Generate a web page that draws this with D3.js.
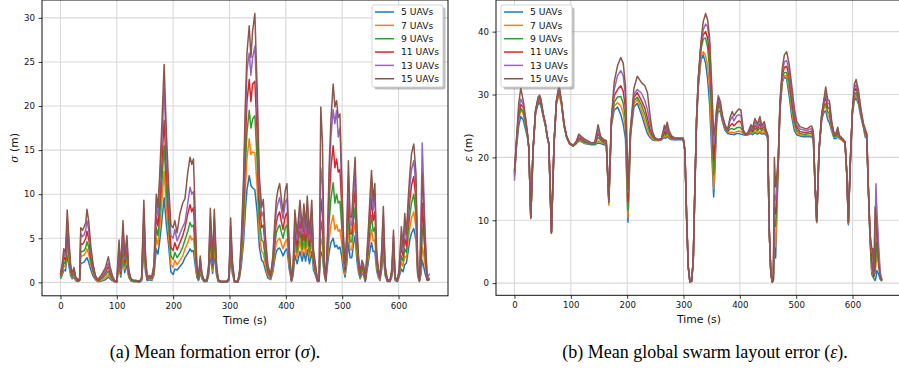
<!DOCTYPE html>
<html><head><meta charset="utf-8">
<script src="https://cdn.jsdelivr.net/npm/d3@7"></script>
<style>body{margin:0;background:#fff}svg{display:block}</style>
</head><body>
<svg id="chart" width="899" height="371"></svg>
<script>
// ---------- data ----------
const seriesNames = ["5 UAVs", "7 UAVs", "9 UAVs", "11 UAVs", "13 UAVs", "15 UAVs"];
const seriesColors = ["#1f77b4", "#ff7f0e", "#2ca02c", "#d62728", "#9467bd", "#8c564b"];
const xTickValues = [0, 100, 200, 300, 400, 500, 600];
const yTicksSigma = [0, 5, 10, 15, 20, 25, 30];
const yTicksEps = [0, 10, 20, 30, 40];
const captionParts = [["(a) Mean formation error (", "\u03c3", ")."], ["(b) Mean global swarm layout error (", "\u03b5", ")."]];

// (a) time axis and sigma series
const timeA = [
 0,3,6,9,12,15,18,21,24,27,
 31,34,36,39,42,45,47,50,54,58,
 62,66,70,75,80,85,88,92,96,100,
 104,107,111,114,118,121,125,130,135,140,
 144,148,151,154,158,162,166,170,173,176,
 180,184,188,192,196,200,203,207,212,217,
 221,226,230,233,236,239,242,245,248,251,
 255,260,263,266,270,273,277,280,285,290,
 295,299,302,305,309,315,318,321,325,328,
 331,335,338,341,345,349,353,357,360,364,
 368,373,377,380,383,386,389,392,395,399,
 402,406,410,413,416,420,425,429,432,435,
 438,442,446,449,452,456,459,462,465,468,
 471,474,477,480,484,487,490,493,496,499,
 502,505,508,511,514,517,520,523,526,529,
 532,535,538,541,546,549,552,555,558,561,
 564,567,570,573,576,580,585,588,591,594,
 598,601,605,608,611,614,617,620,623,627,
 631,634,637,640,642,644,647,651,655];
const sigma5 = [
 0.4,0.8,1.4,1.3,3.1,1.9,0.8,0.4,0.6,0.2,
 0.1,0.2,2.2,2.2,2.3,2.6,2.8,2.3,1.4,0.7,
 0.3,0.1,0.1,0.2,0.3,0.6,0.4,0.2,0.1,0.0,
 1.8,0.6,2.7,1.1,2.0,0.6,0.2,0.1,0.1,0.0,
 0.2,3.5,1.1,0.2,0.3,0.2,0.8,3.8,3.2,4.6,
 7.0,9.6,6.5,4.2,1.2,0.9,1.5,1.4,1.8,2.2,
 2.8,3.3,3.8,3.5,3.6,2.0,0.6,0.2,1.1,0.4,
 0.1,0.1,0.8,3.2,1.0,3.2,0.8,0.1,0.0,0.0,
 0.0,0.2,2.8,1.0,0.0,0.0,0.6,1.9,4.6,8.0,
 10.5,12.1,11.0,10.7,10.5,8.0,4.0,2.5,2.3,1.3,
 0.5,0.3,1.2,2.5,3.5,3.8,3.9,3.5,3.0,3.6,
 3.8,1.5,0.1,0.8,3.1,2.1,3.5,2.4,3.4,2.4,
 3.7,2.1,3.5,1.4,0.9,0.1,0.1,3.5,3.0,0.9,
 0.1,2.0,3.5,4.5,5.0,4.0,4.2,3.8,4.0,3.0,
 1.5,0.6,2.0,4.5,2.8,2.8,4.3,5.3,2.5,1.1,
 0.4,1.0,0.8,0.1,2.1,3.5,4.5,3.5,3.5,1.4,
 0.6,0.2,1.4,3.3,0.8,0.1,0.1,0.6,2.2,0.2,
 0.1,0.6,1.5,1.2,2.0,2.2,3.5,4.8,5.6,6.1,
 4.8,0.7,0.1,1.0,2.5,2.0,1.0,0.2,0.3];
const sigma7 = [
 0.5,1.0,1.9,1.7,4.1,2.5,1.0,0.5,0.9,0.3,
 0.2,0.2,3.0,3.0,3.1,3.4,3.8,3.2,2.0,1.0,
 0.4,0.1,0.2,0.3,0.5,0.9,0.6,0.3,0.1,0.0,
 2.4,0.8,3.5,1.5,2.7,0.8,0.2,0.1,0.1,0.1,
 0.3,4.7,1.5,0.3,0.4,0.3,1.0,5.0,4.3,6.0,
 9.2,12.6,8.5,5.5,2.0,1.7,2.5,2.0,2.5,3.0,
 3.8,4.5,5.3,4.8,5.0,3.0,0.9,0.3,1.5,0.5,
 0.1,0.2,1.0,4.2,1.3,4.2,1.0,0.2,0.1,0.1,
 0.1,0.3,3.7,1.3,0.1,0.1,0.8,2.5,6.0,10.5,
 14.0,16.3,14.5,14.8,14.7,10.8,5.5,3.5,3.3,1.8,
 0.8,0.4,1.5,3.2,4.5,4.8,5.0,4.4,3.8,4.6,
 4.9,2.0,0.2,1.0,4.1,2.8,4.7,3.1,4.5,3.2,
 4.9,2.8,4.7,1.9,1.2,0.2,0.2,5.0,4.2,1.2,
 0.2,2.8,5.0,6.5,7.6,6.0,6.5,5.8,6.0,4.5,
 2.3,0.9,2.8,6.2,3.7,3.7,5.6,6.8,3.3,1.5,
 0.5,1.3,1.0,0.2,2.8,4.7,6.0,4.7,4.8,1.9,
 0.8,0.3,1.9,4.3,1.0,0.2,0.2,0.8,3.0,0.3,
 0.2,0.8,2.3,1.8,3.0,2.8,4.7,6.2,7.3,8.0,
 6.2,0.9,0.2,1.5,4.0,3.5,2.0,0.3,0.3];
const sigma9 = [
 0.6,1.2,2.4,2.0,5.1,3.1,1.2,0.6,1.1,0.4,
 0.2,0.2,3.5,3.5,3.6,4.0,4.6,4.0,2.4,1.2,
 0.5,0.2,0.3,0.5,0.8,1.3,0.8,0.4,0.1,0.1,
 3.0,0.9,4.3,1.9,3.3,0.9,0.2,0.1,0.1,0.1,
 0.3,5.8,1.9,0.3,0.5,0.4,1.2,6.2,5.3,7.4,
 11.3,15.5,10.5,6.8,3.0,2.6,3.4,2.8,3.3,4.0,
 4.8,5.8,6.8,6.3,6.5,4.0,1.2,0.3,1.9,0.6,
 0.1,0.2,1.2,5.2,1.6,5.1,1.2,0.2,0.1,0.1,
 0.1,0.3,4.5,1.6,0.1,0.1,0.9,3.1,7.4,13.0,
 17.0,19.5,17.5,18.5,18.9,13.8,7.0,4.8,4.6,2.5,
 1.1,0.5,1.9,4.0,5.6,6.2,6.5,5.7,5.0,6.2,
 6.5,2.5,0.2,1.2,5.1,3.4,5.8,3.8,5.5,3.9,
 6.1,3.4,5.8,2.3,1.4,0.2,0.2,7.0,5.8,1.5,
 0.2,3.4,7.0,9.5,11.3,9.0,10.0,9.0,9.2,6.5,
 3.2,1.2,3.4,8.0,4.6,4.6,7.0,8.5,4.0,1.8,
 0.6,1.6,1.2,0.2,3.4,5.8,7.6,5.8,6.2,2.3,
 0.9,0.4,2.3,5.3,1.2,0.2,0.2,0.9,3.7,0.4,
 0.2,0.9,3.0,2.4,3.8,3.4,5.8,7.6,9.0,10.0,
 7.6,1.1,0.2,2.0,5.5,6.5,3.0,0.3,0.4];
const sigma11 = [
 0.8,1.5,2.9,2.5,6.2,3.8,1.5,0.8,1.3,0.5,
 0.2,0.3,4.4,4.3,4.6,5.0,5.8,5.0,3.0,1.5,
 0.6,0.2,0.4,0.7,1.1,1.8,1.1,0.5,0.1,0.1,
 3.6,1.1,5.3,2.3,4.0,1.1,0.3,0.2,0.2,0.1,
 0.4,7.0,2.3,0.4,0.6,0.5,1.5,7.5,6.4,9.0,
 13.5,18.4,12.8,8.3,4.0,3.6,4.5,3.7,4.5,5.3,
 6.2,7.8,8.8,8.0,8.5,5.0,1.5,0.4,2.3,0.8,
 0.2,0.2,1.5,6.3,1.9,6.2,1.5,0.2,0.1,0.1,
 0.1,0.4,5.5,1.9,0.1,0.1,1.1,3.8,9.0,15.5,
 20.5,23.0,20.5,22.5,22.8,17.0,9.0,6.2,6.5,3.5,
 1.4,0.6,2.3,4.9,6.8,7.6,8.0,6.9,6.0,7.5,
 7.9,3.0,0.2,1.5,6.2,4.1,7.0,4.7,6.7,4.7,
 7.4,4.1,7.0,2.8,1.7,0.2,0.2,9.5,7.8,1.9,
 0.2,4.1,9.5,13.0,15.5,13.0,14.0,12.5,12.8,8.8,
 4.0,1.5,4.1,10.0,5.5,5.5,8.4,10.5,4.9,2.2,
 0.8,1.9,1.5,0.2,4.1,7.0,9.5,7.0,8.0,2.8,
 1.1,0.5,2.8,6.5,1.5,0.2,0.2,1.1,4.4,0.5,
 0.2,1.1,4.2,3.0,5.0,4.1,7.0,9.3,11.0,12.0,
 9.3,1.4,0.2,3.0,9.0,7.0,3.5,0.3,0.4];
const sigma13 = [
 0.9,1.8,3.3,2.9,7.2,4.4,1.8,0.9,1.5,0.5,
 0.3,0.4,5.5,5.2,5.4,6.0,7.0,6.0,3.5,1.8,
 0.7,0.3,0.5,0.9,1.4,2.2,1.4,0.6,0.2,0.1,
 4.2,1.3,6.2,2.6,4.7,1.3,0.4,0.2,0.2,0.1,
 0.4,8.2,2.6,0.4,0.7,0.5,1.8,8.8,7.5,10.6,
 16.0,22.0,15.0,9.7,5.3,5.0,6.0,4.7,5.5,6.3,
 6.8,9.0,10.8,10.0,10.3,6.5,1.8,0.4,2.6,0.9,
 0.2,0.3,1.8,7.4,2.2,7.3,1.8,0.3,0.1,0.1,
 0.1,0.4,6.4,2.2,0.1,0.1,1.3,4.4,10.6,18.0,
 24.0,26.0,23.5,25.5,26.8,20.0,10.5,7.5,8.0,4.3,
 1.8,0.7,2.6,5.7,8.1,9.0,9.6,8.3,7.2,9.1,
 9.5,3.5,0.3,1.8,7.2,4.8,8.2,5.5,7.8,5.5,
 8.6,4.8,8.2,3.3,2.0,0.3,0.3,13.0,11.0,2.2,
 0.3,4.8,12.0,16.5,19.6,18.0,19.5,16.5,17.5,11.0,
 5.0,1.8,4.8,12.0,6.5,6.5,9.9,12.5,5.7,2.6,
 0.9,2.2,1.8,0.3,4.8,8.2,11.0,8.2,10.0,3.3,
 1.3,0.5,3.3,7.6,1.8,0.3,0.3,1.3,5.2,0.5,
 0.3,1.3,5.3,3.5,6.5,4.8,8.2,10.8,12.8,13.8,
 10.8,1.6,0.3,8.0,15.8,12.0,6.0,0.4,1.0];
const sigma15 = [
 1.0,2.0,3.8,3.3,8.2,5.0,2.0,1.0,1.7,0.6,
 0.3,0.4,6.2,5.9,6.3,6.8,8.3,7.0,4.0,2.0,
 0.8,0.3,0.6,1.1,1.7,2.9,1.8,0.8,0.2,0.1,
 4.8,1.5,7.0,3.0,5.3,1.5,0.4,0.2,0.2,0.1,
 0.5,9.3,3.0,0.5,0.8,0.6,2.0,10.0,8.5,12.0,
 18.0,24.7,17.0,11.0,6.5,6.2,7.0,5.6,7.8,9.0,
 9.5,12.5,14.2,13.4,14.0,8.0,2.0,0.5,3.0,1.0,
 0.2,0.3,2.0,8.4,2.5,8.3,2.0,0.3,0.1,0.1,
 0.1,0.5,7.3,2.5,0.1,0.1,1.5,5.0,12.0,20.0,
 26.0,29.1,25.5,28.5,30.5,22.0,12.0,8.5,9.4,5.0,
 2.0,0.8,3.0,6.5,9.3,10.5,11.2,9.5,8.0,10.5,
 11.2,4.0,0.3,2.0,8.2,5.5,9.3,6.2,8.9,6.3,
 9.8,5.5,9.3,3.7,2.3,0.3,0.3,19.9,15.7,2.5,
 0.3,5.5,13.5,18.4,22.5,19.9,20.6,18.7,19.1,12.4,
 5.6,2.0,5.5,13.8,7.4,7.4,11.2,14.2,6.5,2.9,
 1.0,2.5,2.0,0.3,5.5,9.3,12.7,9.3,11.2,3.7,
 1.5,0.6,3.7,8.6,2.0,0.3,0.3,1.5,5.9,0.6,
 0.3,1.5,6.3,4.0,7.8,5.5,9.3,12.3,14.6,15.7,
 12.3,1.8,0.3,5.0,12.3,10.0,5.0,0.3,0.5];

// (b) time axis and epsilon series
const timeB = [
 0,3.5,7.6,11.2,15.4,19.5,23,25.4,29,33,
 37.4,42,44.5,46.8,51,55,58.5,61,65.6,70.4,
 74.5,79.2,83.4,88,92.8,98,104,110,114,118.8,
 124.7,136.5,142.5,148.4,153,159,163,167.5,172,177,
 183,188.7,193,197,201.5,206,212,218,225.5,231.5,
 236,240.3,244.5,249,255,261,266,268,271,275,
 279,284.7,299.5,302.5,305.5,308.4,311.4,314.4,317.3,320.3,
 323.2,326.2,331,335,339.2,342.8,346.3,350,353.5,355.8,
 358.8,361.7,365.3,368.8,373.6,378.3,382.4,386.6,389.5,394.3,
 398.4,402,406,410.3,415,419.7,422.7,426.8,431,435.7,
 438.7,443.4,445.8,449.3,452.3,455,457.5,459.4,461.2,463.5,
 466,468.3,471.2,475.4,479,483,487.2,492,496.7,500.8,
 506.8,512.7,518.6,524.5,527.5,530.4,533.4,536.4,540.5,545.2,
 549.4,552.4,555.9,558.9,563,567.2,570.7,573.7,576.6,582,
 586.7,589.7,592.6,595.6,599.7,603.3,606.2,610.4,615.1,619.3,
 622.2,625.2,628,631,634,635.8,637.6,640,641.5,643,
 646,649,652];
const eps5 = [
 17.0,21.5,25.0,26.5,26.0,24.5,23.2,21.5,10.6,21.0,
 27.0,28.5,28.6,28.3,26.5,25.0,23.0,22.0,8.2,22.3,
 28.6,30.2,28.5,25.0,23.1,22.1,21.8,22.2,22.6,22.5,
 22.2,22.0,22.0,22.3,22.2,22.0,21.9,13.2,25.0,27.5,
 28.0,26.8,25.3,23.0,9.7,23.5,28.0,28.6,26.8,25.0,
 23.8,23.2,22.8,22.7,22.7,22.8,23.2,23.0,23.3,23.0,
 22.8,22.8,22.8,21.0,10.5,2.6,0.2,0.3,3.6,15.5,
 25.5,31.0,35.5,36.3,35.0,32.5,28.5,21.0,13.7,18.0,
 25.5,27.5,27.2,25.8,24.3,23.8,23.7,23.7,23.6,23.8,
 23.8,23.7,23.6,23.5,23.6,23.8,23.6,23.9,23.7,23.9,
 23.7,23.8,23.6,23.2,8.5,1.5,0.2,0.5,6.0,4.0,
 12.0,19.0,27.5,32.0,32.8,32.5,30.0,26.5,24.3,23.6,
 23.4,23.3,23.3,23.3,23.3,22.8,15.5,9.6,21.0,26.0,
 27.2,27.4,26.0,25.5,24.2,23.0,23.0,23.4,23.0,22.7,
 22.3,17.5,9.3,18.0,27.0,29.0,29.5,28.5,26.3,24.8,
 23.3,23.0,15.0,7.0,1.5,1.0,0.8,0.4,0.8,2.0,
 1.5,0.6,0.3];
const eps7 = [
 17.5,22.0,26.0,27.5,27.0,25.2,23.5,21.6,10.4,21.1,
 27.2,29.0,29.2,28.8,26.7,25.1,23.1,22.1,8.1,22.4,
 28.7,30.0,28.3,25.0,23.1,22.1,21.8,22.3,22.7,22.6,
 22.3,22.1,22.1,22.6,22.4,22.2,22.1,12.4,25.3,28.2,
 28.7,28.2,27.0,24.5,10.5,23.8,28.5,29.2,27.5,25.8,
 24.5,23.5,23.0,22.8,22.7,22.8,23.4,23.2,23.6,23.2,
 22.9,22.9,22.9,21.0,10.5,2.6,0.2,0.3,3.6,15.6,
 25.8,31.3,36.0,36.8,36.2,34.5,31.0,23.5,15.0,19.5,
 26.0,28.0,27.6,26.0,24.5,24.0,24.0,24.0,23.9,24.1,
 24.2,24.1,23.8,23.6,23.7,24.0,23.8,24.2,23.9,24.2,
 23.9,24.1,23.8,23.3,8.3,1.5,0.2,0.5,8.0,5.8,
 13.0,19.3,27.8,32.3,33.0,33.0,31.0,27.5,25.0,23.9,
 23.6,23.5,23.5,23.5,23.6,23.0,15.6,9.7,21.1,26.2,
 27.8,28.2,26.7,26.3,24.5,23.2,23.2,23.6,23.1,22.8,
 22.3,17.5,9.5,18.1,27.1,29.5,30.0,29.0,26.6,24.9,
 23.6,23.2,15.1,7.3,2.0,1.5,1.0,1.5,3.0,5.5,
 3.0,1.0,0.4];
const eps9 = [
 17.2,22.0,26.5,27.8,27.3,25.5,23.6,21.6,10.5,21.2,
 27.2,28.8,28.9,28.6,26.6,25.1,23.1,22.1,7.9,22.5,
 28.8,30.6,28.7,25.1,23.2,22.2,21.8,22.3,22.9,22.8,
 22.4,22.1,22.1,23.2,22.7,22.3,22.2,12.8,25.5,28.8,
 29.6,29.7,28.6,26.0,11.5,24.0,29.0,29.6,28.3,26.8,
 25.3,24.0,23.3,22.9,22.8,22.9,23.8,23.5,24.0,23.4,
 23.0,22.9,22.9,21.1,10.5,2.6,0.2,0.3,3.6,15.6,
 26.0,31.8,37.2,38.8,39.0,37.5,34.0,27.0,17.2,21.0,
 26.5,28.3,27.9,26.2,24.7,24.1,24.5,24.6,24.4,24.7,
 24.8,24.7,24.0,23.6,23.8,24.3,24.0,24.6,24.2,24.7,
 24.2,24.5,24.0,23.4,8.1,1.5,0.2,0.5,10.0,9.0,
 14.5,19.6,28.0,32.7,33.5,33.5,32.0,28.3,25.6,24.3,
 23.8,23.7,23.7,23.8,23.9,23.2,15.7,9.8,21.1,26.4,
 28.2,28.6,27.3,27.0,24.8,23.3,23.4,23.8,23.2,22.8,
 22.4,17.5,9.6,18.2,27.2,30.0,30.3,29.3,26.8,25.0,
 23.8,23.4,15.2,7.5,2.5,2.0,1.0,2.0,4.5,6.5,
 3.5,1.2,0.4];
const eps11 = [
 17.6,22.3,27.0,28.4,28.0,26.0,23.7,21.7,10.3,21.2,
 27.3,29.2,29.4,29.0,26.8,25.2,23.2,22.2,8.0,22.5,
 28.9,30.8,28.8,25.2,23.2,22.2,21.9,22.4,23.1,23.0,
 22.6,22.2,22.2,23.8,23.0,22.5,22.4,13.0,25.8,29.8,
 30.8,31.4,30.5,27.8,13.0,24.3,29.5,30.3,29.0,27.8,
 26.2,24.6,23.6,23.0,22.8,22.9,24.2,23.8,24.5,23.7,
 23.1,23.0,23.0,21.1,10.5,2.6,0.2,0.3,3.6,15.7,
 26.1,32.1,37.8,39.5,40.0,39.0,36.0,29.0,19.5,22.5,
 27.0,28.8,28.3,26.4,24.9,24.2,25.0,25.4,25.0,25.5,
 25.8,25.6,24.1,23.6,23.9,24.6,24.2,25.1,24.5,25.3,
 24.5,24.9,24.2,23.5,8.0,1.5,0.2,0.5,12.0,11.0,
 15.5,19.8,28.3,33.2,34.3,34.5,33.0,29.3,26.3,24.8,
 24.1,24.0,23.9,24.1,24.2,23.5,15.8,9.9,21.2,26.5,
 28.7,29.5,27.9,27.8,25.1,23.5,23.6,24.1,23.3,22.9,
 22.4,17.5,9.7,18.3,27.3,30.5,31.0,29.7,27.0,25.1,
 24.0,23.5,15.2,7.7,3.5,3.0,1.1,3.5,7.0,10.5,
 5.0,1.3,0.5];
const eps13 = [
 16.3,22.5,27.5,29.3,28.4,26.2,23.8,21.7,10.5,21.3,
 27.4,29.5,29.7,29.2,26.9,25.3,23.2,22.2,8.1,22.6,
 29.0,31.1,28.9,25.3,23.3,22.3,21.9,22.5,23.4,23.2,
 22.7,22.2,22.3,24.4,23.2,22.7,22.6,13.2,26.0,30.8,
 33.0,33.8,33.0,29.8,14.5,24.5,30.0,30.8,30.2,29.0,
 27.6,25.5,23.9,23.1,22.8,23.0,24.6,24.2,25.0,23.9,
 23.3,23.0,23.0,21.1,10.5,2.6,0.2,0.3,3.6,15.7,
 26.2,32.3,38.0,40.3,41.2,40.8,38.0,30.5,22.0,24.0,
 27.5,29.3,28.6,26.6,25.0,24.3,25.8,26.5,25.8,26.6,
 26.8,26.6,24.3,23.6,24.0,24.9,24.5,25.7,24.9,25.9,
 24.8,25.3,24.4,23.6,7.9,1.5,0.2,0.5,14.0,13.2,
 16.5,20.0,28.6,33.7,35.2,35.4,34.0,30.3,27.0,25.2,
 24.5,24.4,24.2,24.5,24.6,23.8,15.9,10.0,21.2,26.7,
 29.1,30.2,28.6,28.5,25.4,23.7,23.8,24.4,23.4,23.0,
 22.5,17.5,9.8,18.4,27.4,31.0,31.6,30.2,27.3,25.3,
 24.3,23.7,15.3,7.8,5.0,5.3,1.2,8.0,15.8,12.0,
 6.5,1.8,0.6];
const eps15 = [
 17.8,22.8,28.6,31.0,29.1,26.5,23.9,21.7,10.5,21.3,
 27.5,29.6,29.9,29.4,27.0,25.4,23.3,22.3,8.1,22.7,
 29.1,31.5,29.0,25.4,23.3,22.3,21.9,22.6,23.7,23.3,
 22.9,22.3,22.4,25.2,23.3,22.8,22.7,13.4,26.1,32.0,
 34.6,35.9,35.0,31.3,14.8,24.6,31.0,32.9,31.9,31.4,
 30.3,26.9,24.2,23.2,22.8,23.0,25.1,24.5,25.6,24.1,
 23.4,23.1,23.1,21.1,10.5,2.6,0.2,0.3,3.6,15.7,
 26.3,32.6,38.4,41.6,42.9,41.9,39.0,31.6,23.6,24.7,
 27.8,29.8,28.9,26.8,25.2,24.4,26.3,27.3,26.6,27.3,
 27.7,27.5,24.4,23.6,24.1,25.2,24.7,26.2,25.3,26.5,
 25.1,25.7,24.6,23.6,7.9,1.5,0.2,0.5,20.0,15.3,
 17.5,20.2,28.9,34.2,36.3,36.8,35.0,31.5,27.8,25.7,
 24.9,24.7,24.5,24.9,25.0,24.2,15.9,10.0,21.2,26.8,
 29.4,31.2,29.2,29.0,25.7,23.8,23.9,24.8,23.5,23.0,
 22.5,17.5,9.8,18.5,27.5,31.7,32.4,30.7,27.5,25.4,
 24.6,23.8,15.3,7.9,5.5,5.5,1.1,12.1,11.0,8.5,
 3.4,1.0,0.4];

// ---------- drawing ----------
const svg = d3.select("#chart");
const FONT = "'DejaVu Sans', sans-serif";

function padded(ext) {
  const d = ext[1] - ext[0];
  return [ext[0] - 0.05 * d, ext[1] + 0.05 * d];
}

function panel(cfg) {
  const {id, left, right, top, bottom, time, series, yTicks, yGreek, legendX, labelX, xLabelCenter} = cfg;
  const allY = series.flat();
  const x = d3.scaleLinear().domain(padded(d3.extent(timeA))).range([left, right]);
  const y = d3.scaleLinear().domain(padded(d3.extent(allY))).range([bottom, top]);

  const g = svg.append("g");
  svg.append("clipPath").attr("id", "clip" + id)
    .append("rect").attr("x", left).attr("y", top).attr("width", right - left).attr("height", bottom - top);

  // grid
  g.append("g").selectAll("line").data(xTickValues).join("line")
    .attr("x1", d => x(d)).attr("x2", d => x(d)).attr("y1", top).attr("y2", bottom)
    .attr("stroke", "#d9d9d9").attr("stroke-width", 1.1);
  g.append("g").selectAll("line").data(yTicks).join("line")
    .attr("x1", left).attr("x2", right).attr("y1", d => y(d)).attr("y2", d => y(d))
    .attr("stroke", "#d9d9d9").attr("stroke-width", 1.1);

  // lines
  const line = d3.line().x(d => x(d[0])).y(d => y(d[1]));
  g.append("g").attr("clip-path", `url(#clip${id})`)
    .selectAll("path").data(series).join("path")
    .attr("d", s => line(s.map((v, i) => [time[i], v])))
    .attr("fill", "none")
    .attr("stroke", (s, i) => seriesColors[i])
    .attr("stroke-width", 1.5)
    .attr("stroke-linejoin", "round");

  // axes
  const ax = g.append("g").attr("transform", `translate(0,${bottom})`)
    .call(d3.axisBottom(x).tickValues(xTickValues).tickSize(3.5).tickPadding(3.5));
  const ay = g.append("g").attr("transform", `translate(${left},0)`)
    .call(d3.axisLeft(y).tickValues(yTicks).tickSize(3.5).tickPadding(3.5));
  [ax, ay].forEach(a => {
    a.select(".domain").remove();
    a.selectAll("line").attr("stroke", "#000").attr("stroke-width", 0.8);
    a.selectAll("text").attr("font-family", FONT).attr("font-size", 8.6).attr("fill", "#111");
  });

  // spines
  g.append("rect").attr("x", left).attr("y", top).attr("width", right - left).attr("height", bottom - top)
    .attr("fill", "none").attr("stroke", "#111").attr("stroke-width", 1);

  // labels
  g.append("text").attr("x", xLabelCenter).attr("y", bottom + 28)
    .attr("text-anchor", "middle").attr("font-family", FONT).attr("font-size", 10.8).attr("fill", "#111")
    .text("Time (s)");
  const yl = g.append("text").attr("transform", `translate(${labelX},${(top + bottom) / 2}) rotate(-90)`)
    .attr("text-anchor", "middle").attr("dominant-baseline", "middle")
    .attr("font-family", FONT).attr("font-size", 10.8).attr("fill", "#111");
  yl.append("tspan").attr("font-style", "italic").attr("font-family", "'DejaVu Serif', serif").text(yGreek);
  yl.append("tspan").text(" (m)");

  // legend
  const lw = 71, lh = 82, ly = 5;
  const lg = g.append("g").attr("transform", `translate(${legendX},${ly})`);
  lg.append("rect").attr("x", 2.5).attr("y", 2.5).attr("width", lw).attr("height", lh).attr("rx", 2)
    .attr("fill", "#7f7f7f").attr("opacity", 0.5);
  lg.append("rect").attr("width", lw).attr("height", lh).attr("rx", 2)
    .attr("fill", "#fff").attr("stroke", "#cccccc").attr("stroke-width", 0.8);
  const rows = lg.selectAll("g.row").data(seriesNames).join("g").attr("class", "row")
    .attr("transform", (d, i) => `translate(0,${7 + i * 13.35})`);
  rows.append("line").attr("x1", 3).attr("x2", 22).attr("stroke", (d, i) => seriesColors[i]).attr("stroke-width", 1.5);
  rows.append("text").attr("x", 29).attr("dy", "0.35em").attr("font-family", FONT).attr("font-size", 9.2)
    .attr("fill", "#111").text(d => d);
}

panel({id: "a", left: 42, right: 448, top: 0, bottom: 295.8, time: timeA,
  series: [sigma5, sigma7, sigma9, sigma11, sigma13, sigma15], yTicks: yTicksSigma,
  yGreek: "\u03c3", legendX: 372, labelX: 15, xLabelCenter: 245});
panel({id: "b", left: 496, right: 902, top: 0, bottom: 295.3, time: timeB,
  series: [eps5, eps7, eps9, eps11, eps13, eps15], yTicks: yTicksEps,
  yGreek: "\u03b5", legendX: 501, labelX: 469, xLabelCenter: 699});

// captions
const caps = svg.selectAll("text.cap").data(captionParts).join("text").attr("class", "cap")
  .attr("x", (d, i) => i === 0 ? 215 : 705).attr("y", 358)
  .attr("text-anchor", "middle").attr("font-family", "'Liberation Serif', serif")
  .attr("font-size", 18).attr("fill", "#000");
caps.append("tspan").text(d => d[0]);
caps.append("tspan").attr("font-style", "italic").text(d => d[1]);
caps.append("tspan").text(d => d[2]);
</script>
</body></html>
